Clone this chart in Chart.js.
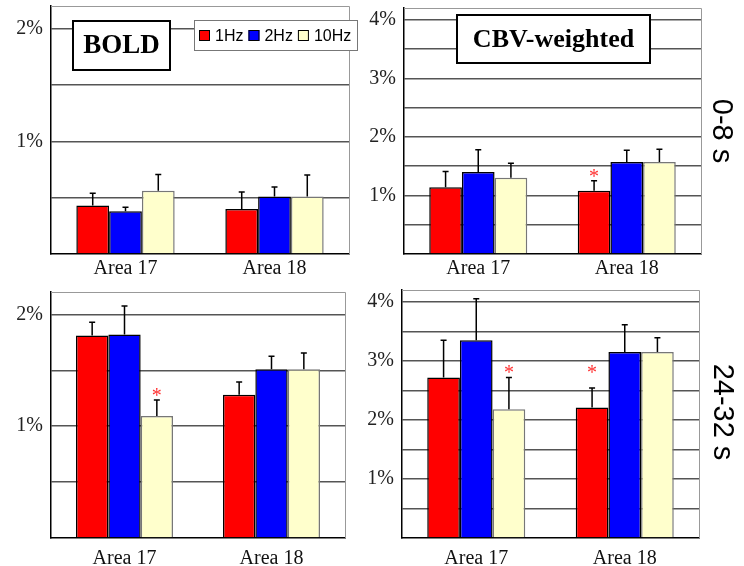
<!DOCTYPE html>
<html>
<head>
<meta charset="utf-8">
<script src="https://cdn.jsdelivr.net/npm/chart.js@4.4.0/dist/chart.umd.min.js"></script>
<style>
  body { margin: 0; background: #fff; }
  #wrap { position: relative; width: 744px; height: 566px; overflow: hidden; }
  .panel { position: absolute; }
  .side { position: absolute; font-family: "Liberation Sans", Arial, sans-serif; font-size: 29px;
          color: #000; white-space: nowrap; transform: translate(-50%, -50%) rotate(90deg); }
</style>
</head>
<body>
<div id="wrap">
  <div class="panel" style="left:0;top:0;width:372px;height:283px"><canvas id="c1"></canvas></div>
  <div class="panel" style="left:350px;top:0;width:394px;height:283px"><canvas id="c2"></canvas></div>
  <div class="panel" style="left:0;top:283px;width:372px;height:283px"><canvas id="c3"></canvas></div>
  <div class="panel" style="left:350px;top:283px;width:394px;height:283px"><canvas id="c4"></canvas></div>
  <div class="side" style="left:722px;top:131px">0-8 s</div>
  <div class="side" style="left:723px;top:412px">24-32 s</div>
</div>
<script>
// categories and series
const areas = ['Area 17', 'Area 18'];
const freqs = ['1Hz', '2Hz', '10Hz'];

// BOLD, 0-8 s  (mean % change, per frequency: [Area 17, Area 18])
const bold08_1Hz = [0.43, 0.40], bold08_2Hz = [0.38, 0.51], bold08_10Hz = [0.56, 0.51];
const bold08Sem_1Hz = [0.11, 0.15], bold08Sem_2Hz = [0.035, 0.085], bold08Sem_10Hz = [0.145, 0.19];

// CBV-weighted, 0-8 s
const cbv08_1Hz = [1.14, 1.08], cbv08_2Hz = [1.40, 1.57], cbv08_10Hz = [1.30, 1.57];
const cbv08Sem_1Hz = [0.27, 0.17], cbv08Sem_2Hz = [0.38, 0.20], cbv08Sem_10Hz = [0.25, 0.22];

// BOLD, 24-32 s
const bold24_1Hz = [1.81, 1.28], bold24_2Hz = [1.82, 1.51], bold24_10Hz = [1.09, 1.51];
const bold24Sem_1Hz = [0.12, 0.115], bold24Sem_2Hz = [0.255, 0.115], bold24Sem_10Hz = [0.145, 0.145];

// CBV-weighted, 24-32 s
const cbv24_1Hz = [2.72, 2.21], cbv24_2Hz = [3.35, 3.15], cbv24_10Hz = [2.18, 3.15];
const cbv24Sem_1Hz = [0.63, 0.33], cbv24Sem_2Hz = [0.70, 0.46], cbv24Sem_10Hz = [0.54, 0.24];

// significance asterisks (value where the * sits, null = none)
const star_none = [null, null];
const cbv08Star_1Hz = [null, 1.38];
const bold24Star_10Hz = [1.31, null];
const cbv24Star_1Hz = [null, 2.87], cbv24Star_10Hz = [2.87, null];

// y axis ranges and ticks
const yMaxBold = 2.2, yMaxCbv = 4.2, yStep = 0.5;

const fills = ['#ff0000', '#0000ff', '#ffffcc'];
const edges = ['#000000', '#000000', '#777777'];

function sets(vals, sems, stars) {
  return freqs.map((f, i) => ({
    label: f, data: vals[i], sem: sems[i], star: stars[i],
    backgroundColor: fills[i], borderColor: edges[i], borderWidth: 1.5,
    categoryPercentage: 0.66, barPercentage: 1.0
  }));
}

const extras = {
  id: 'extras',
  afterDatasetsDraw(chart, args, opts) {
    const ctx = chart.ctx, y = chart.scales.y, a = chart.chartArea;
    ctx.save();
    // top/right frame
    ctx.strokeStyle = '#999'; ctx.lineWidth = 1;
    ctx.beginPath();
    ctx.moveTo(a.left, a.top + 0.5); ctx.lineTo(a.right + 0.5, a.top + 0.5); ctx.lineTo(a.right + 0.5, a.bottom);
    ctx.stroke();
    // error bars and stars
    chart.data.datasets.forEach((ds, i) => {
      chart.getDatasetMeta(i).data.forEach((bar, j) => {
        const top = y.getPixelForValue(ds.data[j] + ds.sem[j]);
        ctx.strokeStyle = '#000'; ctx.lineWidth = 1.5;
        ctx.beginPath();
        ctx.moveTo(bar.x, bar.y); ctx.lineTo(bar.x, top);
        ctx.moveTo(bar.x - 3, top); ctx.lineTo(bar.x + 3, top);
        ctx.stroke();
        if (ds.star[j] != null) {
          ctx.font = '20px "Liberation Serif", serif';
          ctx.fillStyle = '#ff3030'; ctx.textAlign = 'center'; ctx.textBaseline = 'alphabetic';
          const m = ctx.measureText('*');
          const sy = y.getPixelForValue(ds.star[j]);
          ctx.fillText('*', bar.x, sy + (m.actualBoundingBoxAscent - m.actualBoundingBoxDescent) / 2);
        }
      });
    });
    // title box
    if (opts.title) {
      const [bx, by, bw, bh] = opts.box;
      ctx.fillStyle = '#fff'; ctx.fillRect(bx, by, bw, bh);
      ctx.strokeStyle = '#000'; ctx.lineWidth = 2; ctx.strokeRect(bx, by, bw, bh);
      ctx.fillStyle = '#000'; ctx.font = 'bold ' + opts.titleSize + 'px "Liberation Serif", serif';
      ctx.textAlign = 'center'; ctx.textBaseline = 'middle';
      ctx.fillText(opts.title, bx + bw / 2, by + bh / 2 + 1);
    }
    // legend
    if (opts.legend) {
      const [lx, ly, lw, lh] = opts.legend;
      ctx.fillStyle = '#fff'; ctx.fillRect(lx, ly, lw, lh);
      ctx.strokeStyle = '#777'; ctx.lineWidth = 1; ctx.strokeRect(lx + 0.5, ly + 0.5, lw, lh);
      ctx.font = '16px "Liberation Sans", Arial, sans-serif';
      ctx.textAlign = 'left'; ctx.textBaseline = 'alphabetic';
      let x = lx + 5;
      chart.data.datasets.forEach(ds => {
        ctx.fillStyle = ds.backgroundColor; ctx.fillRect(x, ly + 10, 11, 11);
        ctx.strokeStyle = '#000'; ctx.lineWidth = 1; ctx.strokeRect(x + 0.5, ly + 10.5, 10, 10);
        ctx.fillStyle = '#000'; ctx.fillText(ds.label, x + 16, ly + 21);
        x += 16 + ctx.measureText(ds.label).width + 5;
      });
    }
    ctx.restore();
  }
};

function makeChart(id, datasets, yMax, lay) {
  return new Chart(document.getElementById(id), {
    type: 'bar',
    data: { labels: areas, datasets: datasets },
    options: {
      responsive: true, maintainAspectRatio: false, animation: false, devicePixelRatio: 1,
      layout: { padding: lay.pad },
      plugins: { legend: { display: false }, tooltip: { enabled: false }, extras: lay.extras },
      scales: {
        x: {
          grid: { display: false, drawTicks: false },
          border: { color: '#000', width: 1.5 },
          ticks: { color: '#111', padding: lay.xpad, font: { family: '"Liberation Serif", serif', size: 20 } },
          afterFit: s => { s.height = lay.xh; s.paddingLeft = 0; s.paddingRight = 0; }
        },
        y: {
          min: 0, max: yMax,
          grid: { drawTicks: false, lineWidth: 1.5, color: c => c.tick.value === 0 ? 'rgba(0,0,0,0)' : '#555' },
          border: { color: '#000', width: 1.5 },
          ticks: {
            stepSize: yStep, includeBounds: false, padding: 8, color: '#222',
            font: { family: '"Liberation Serif", serif', size: 20 },
            callback: v => (v > 0 && Number.isInteger(v)) ? v + '%' : ''
          },
          afterFit: s => { s.width = lay.yw; s.paddingTop = 0; s.paddingBottom = 0; }
        }
      }
    },
    plugins: [extras]
  });
}

makeChart('c1', sets([bold08_1Hz, bold08_2Hz, bold08_10Hz], [bold08Sem_1Hz, bold08Sem_2Hz, bold08Sem_10Hz], [star_none, star_none, star_none]),
  yMaxBold, { pad: { left: 0, right: 23, top: 6, bottom: 0 }, yw: 51, xh: 29, xpad: 3,
  extras: { title: 'BOLD', titleSize: 27, box: [73, 21, 97, 49], legend: [194, 20, 163, 30] } });

makeChart('c2', sets([cbv08_1Hz, cbv08_2Hz, cbv08_10Hz], [cbv08Sem_1Hz, cbv08Sem_2Hz, cbv08Sem_10Hz], [cbv08Star_1Hz, star_none, star_none]),
  yMaxCbv, { pad: { left: 0, right: 43, top: 8, bottom: 0 }, yw: 54, xh: 29, xpad: 3,
  extras: { title: 'CBV-weighted', titleSize: 26, box: [107, 15, 193, 48] } });

makeChart('c3', sets([bold24_1Hz, bold24_2Hz, bold24_10Hz], [bold24Sem_1Hz, bold24Sem_2Hz, bold24Sem_10Hz], [star_none, star_none, bold24Star_10Hz]),
  yMaxBold, { pad: { left: 0, right: 27, top: 9, bottom: 0 }, yw: 51, xh: 28, xpad: 9, extras: {} });

makeChart('c4', sets([cbv24_1Hz, cbv24_2Hz, cbv24_10Hz], [cbv24Sem_1Hz, cbv24Sem_2Hz, cbv24Sem_10Hz], [cbv24Star_1Hz, star_none, cbv24Star_10Hz]),
  yMaxCbv, { pad: { left: 0, right: 45, top: 7, bottom: 0 }, yw: 52, xh: 28, xpad: 9, extras: {} });
</script>
</body>
</html>
